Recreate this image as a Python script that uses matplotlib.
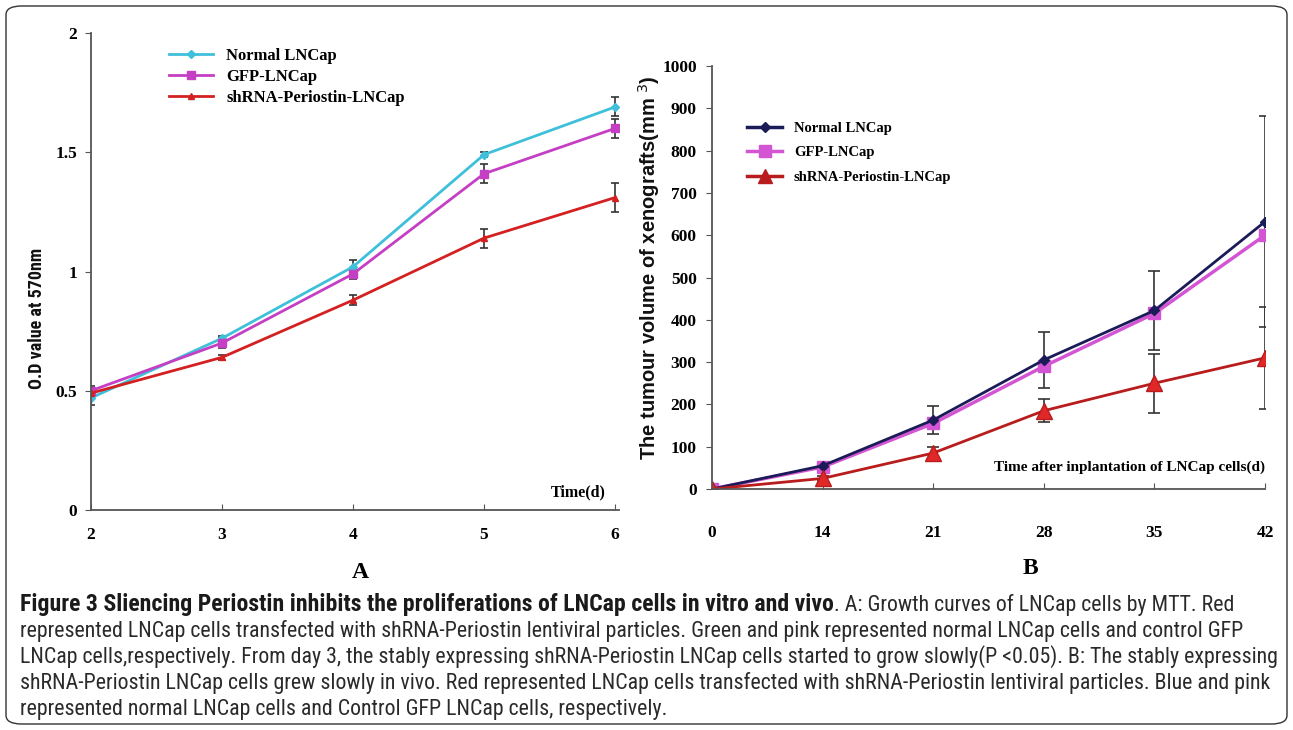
import matplotlib
matplotlib.use("Agg")
import matplotlib.pyplot as plt
from matplotlib.patches import FancyBboxPatch
from matplotlib.lines import Line2D
from matplotlib import font_manager

# panel A: MTT growth curves
days_a = [2, 3, 4, 5, 6]
normal_a = [0.47, 0.72, 1.02, 1.49, 1.69]
normal_a_err = [0.03, 0.01, 0.03, 0.01, 0.04]
gfp_a = [0.50, 0.70, 0.99, 1.41, 1.60]
gfp_a_err = [0.02, 0.02, 0.02, 0.04, 0.04]
sh_a = [0.49, 0.64, 0.88, 1.14, 1.31]
sh_a_err = [0.01, 0.01, 0.02, 0.04, 0.06]

# panel B: xenograft volume
days_b = ['0', '14', '21', '28', '35', '42']
normal_b = [0, 55, 163, 305, 422, 632]
normal_b_err = [0, 5, 34, 67, 93, 250]
gfp_b = [0, 52, 155, 290, 415, 600]
sh_b = [0, 25, 85, 185, 250, 310]
sh_b_err = [0, 5, 15, 27, 70, 120]

labels = ['Normal LNCap', 'GFP-LNCap', 'shRNA-Periostin-LNCap']

caption_bold = 'Figure 3 Sliencing Periostin inhibits the proliferations of LNCap cells in vitro and vivo'
caption_rest = '. A: Growth curves of LNCap cells by MTT. Red'
caption_lines = [
    'represented LNCap cells transfected with shRNA-Periostin lentiviral particles. Green and pink represented normal LNCap cells and control GFP',
    'LNCap cells,respectively. From day 3, the stably expressing shRNA-Periostin LNCap cells started to grow slowly(P <0.05). B: The stably expressing',
    'shRNA-Periostin LNCap cells grew slowly in vivo. Red represented LNCap cells transfected with shRNA-Periostin lentiviral particles. Blue and pink',
    'represented normal LNCap cells and Control GFP LNCap cells, respectively.',
]

serif = 'Liberation Serif'
sans = 'Liberation Sans'
W, H = 1293, 730

# pick a narrow family for the caption if one is around
installed = set(f.name for f in font_manager.fontManager.ttflist)
narrow = 'Liberation Sans'
for name in ['Roboto Condensed', 'Liberation Sans Narrow', 'DejaVu Sans Condensed',
             'Open Sans Condensed', 'Noto Sans Condensed']:
    if name in installed:
        narrow = name
        break

fig = plt.figure(figsize=(W / 100, H / 100), dpi=100)

# rounded frame around the whole figure
fig.patches.append(FancyBboxPatch((6 / W, 6 / H), 1 - 12 / W, 1 - 12 / H,
                                  boxstyle='round,pad=0,rounding_size=0.012',
                                  transform=fig.transFigure, fill=False,
                                  edgecolor='#333333', linewidth=1.0))


def style_axes(ax, xpad, ypad):
    for s in ['top', 'right']:
        ax.spines[s].set_visible(False)
    for s in ['left', 'bottom']:
        ax.spines[s].set_color('#555555')
        ax.spines[s].set_linewidth(1.3)
    ax.tick_params(axis='y', direction='out', length=4, color='#555555', pad=ypad)
    ax.tick_params(axis='x', direction='in', length=4, color='#555555', pad=xpad)
    for t in ax.get_xticklabels() + ax.get_yticklabels():
        t.set_fontfamily(serif)
        t.set_fontweight('bold')
        t.set_fontsize(12.5)


def handles(colors, markers, sizes, widths):
    return [Line2D([], [], color=c, marker=m, ms=s, lw=w)
            for c, m, s, w in zip(colors, markers, sizes, widths)]


# ---- panel A ----
cols_a = ['#3ec0da', '#c43fc4', '#d42020']
axa = fig.add_axes([91 / W, 1 - 510 / H, (619 - 91) / W, (510 - 33) / H])
ekw = dict(elinewidth=1.2, capsize=3, capthick=1.2, ecolor='#333333')
axa.errorbar(days_a, normal_a, yerr=normal_a_err, color=cols_a[0], lw=2,
             marker='D', ms=4, **ekw)
axa.errorbar(days_a, gfp_a, yerr=gfp_a_err, color=cols_a[1], lw=2,
             marker='s', ms=6, **ekw)
axa.errorbar(days_a, sh_a, yerr=sh_a_err, color=cols_a[2], lw=2,
             marker='^', ms=5, **ekw)
axa.set_xlim(2, 6.03)
axa.set_ylim(0, 2)
axa.set_xticks(days_a)
axa.set_yticks([0, 0.5, 1, 1.5, 2])
axa.set_yticklabels(['0', '0.5', '1', '1.5', '2'])
style_axes(axa, 12, 6)
fig.text(37 / W, 1 - 318 / H, 'O.D value at 570nm', fontfamily=narrow, fontweight='bold',
         fontsize=13, rotation=90, ha='center', va='center', color='#111111')
axa.text(0.975, 0.02, 'Time(d)', transform=axa.transAxes, ha='right', va='bottom',
         fontfamily=serif, fontweight='bold', fontsize=11.5)
axa.legend(handles(cols_a, ['D', 's', '^'], [4, 6, 5], [2, 2, 2]), labels,
           loc='upper left', bbox_to_anchor=(0.12, 1.0), frameon=False,
           prop=dict(family=serif, weight='bold', size=12),
           handlelength=2.6, labelspacing=0.3)
fig.text(360 / W, 1 - 572 / H, 'A', fontfamily=serif, fontweight='bold',
         fontsize=17, ha='center', va='center')

# ---- panel B ----
cols_b = ['#1b1b58', '#d455d4', '#b81c1c']
xb = list(range(len(days_b)))
axb = fig.add_axes([712 / W, 1 - 489 / H, (1265 - 712) / W, (489 - 66) / H])
ekw = dict(elinewidth=1.2, capsize=4, capthick=1.2, ecolor='#333333')
axb.errorbar(xb, normal_b, yerr=normal_b_err, color=cols_b[0], lw=2,
             marker='D', ms=5, **ekw)
axb.plot(xb, gfp_b, color=cols_b[1], lw=2.5, marker='s', ms=8)
axb.errorbar(xb, sh_b, yerr=sh_b_err, color=cols_b[2], lw=2,
             marker='^', ms=11, markerfacecolor='#e02828', **ekw)
axb.set_xlim(0, 5.0)
axb.set_ylim(0, 1000)
axb.set_xticks(xb)
axb.set_xticklabels(days_b)
axb.set_yticks(range(0, 1001, 100))
style_axes(axb, 26, 7)
fig.text(649 / W, 1 - 268 / H, 'The tumour volume of xenografts(mm$^{\\ 3}$)', fontfamily=sans,
         fontweight='bold', fontsize=14.5, rotation=90, ha='center', va='center',
         color='#111111')
axb.text(1.0, 0.035, 'Time after inplantation of LNCap cells(d)', transform=axb.transAxes,
         ha='right', va='bottom', fontfamily=serif, fontweight='bold', fontsize=11)
axb.legend(handles(cols_b, ['D', 's', '^'], [5, 8, 10], [2.5, 2.5, 2.5]), labels,
           loc='upper left', bbox_to_anchor=(0.04, 0.9), frameon=False,
           prop=dict(family=serif, weight='bold', size=10.5),
           handlelength=2.4, labelspacing=0.78)
fig.text(1030 / W, 1 - 568 / H, 'B', fontfamily=serif, fontweight='bold',
         fontsize=17, ha='center', va='center')

# ---- caption ----
# size the caption so its lines span the same widths as in the figure
fig.canvas.draw()
probe = fig.text(0, 0, caption_lines[1], fontfamily=narrow, fontsize=12)
cap_size = 12 * 1255 / probe.get_window_extent().width
probe.remove()
probe = fig.text(0, 0, caption_bold, fontfamily=narrow, fontweight='bold', fontsize=12)
bold_size = min(12 * 815 / probe.get_window_extent().width, cap_size * 1.12)
probe.remove()

y0 = 1 - 605 / H
dy = 26 / H
tcol = '#2a2a2a'
tb = fig.text(20 / W, y0, caption_bold, fontfamily=narrow, fontweight='bold',
              fontsize=bold_size, va='center', color='#1a1a1a')
fig.canvas.draw()
bb = tb.get_window_extent()
fig.text(bb.x1 / W, y0, caption_rest, fontfamily=narrow, fontsize=cap_size,
         va='center', color=tcol)
for i, line in enumerate(caption_lines):
    fig.text(20 / W, y0 - (i + 1) * dy, line, fontfamily=narrow, fontsize=cap_size,
             va='center', color=tcol)

fig.savefig('out.png', dpi=100)
